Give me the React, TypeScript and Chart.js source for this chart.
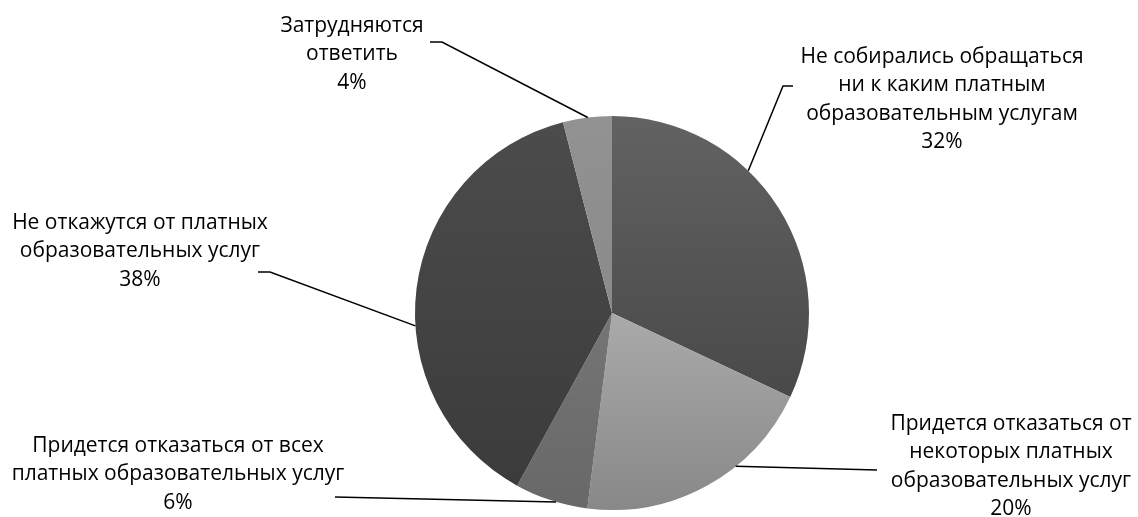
import React, { useEffect, useRef } from "react";
import { Chart, registerables } from "chart.js";

Chart.register(...registerables);

const categories: string[][] = [
  ["Не собирались обращаться", "ни к каким платным", "образовательным услугам"],
  ["Придется отказаться от", "некоторых платных", "образовательных услуг"],
  ["Придется отказаться от всех", "платных образовательных услуг"],
  ["Не откажутся от платных", "образовательных услуг"],
  ["Затрудняются", "ответить"],
];
const values: number[] = [32, 20, 6, 38, 4];

// slice shading (top of pie -> bottom of pie)
const lightColors = ["#626262", "#cccccc", "#828282", "#4c4c4c", "#929292"];
const darkColors = ["#3f3f3f", "#888888", "#686868", "#3a3a3a", "#828282"];

// label placement (text centre x, first line centre y), leader anchor fraction inside slice, leader path
const labelX = [942, 1011, 178, 140, 352];
const labelY = [57, 424, 446, 223, 26];
const anchorFrac = [0.38, 0.36, 0.43, 0.42, 0.51];
const leaderPath: number[][][] = [
  [[783, 86], [793, 86]],
  [[877, 470]],
  [[335, 497]],
  [[270, 272], [258, 272]],
  [[442, 42], [430, 42]],
];

const FONT = '21px "Open Sans", "Noto Sans", sans-serif';
const LINE_H = 28.5;

const labelPlugin = {
  id: "pieLabels",
  afterDatasetsDraw(chart: any) {
    const ctx = chart.ctx as CanvasRenderingContext2D;
    const meta = chart.getDatasetMeta(0);
    ctx.save();
    meta.data.forEach((arc: any, i: number) => {
      const a = arc.startAngle + anchorFrac[i] * (arc.endAngle - arc.startAngle);
      const r = arc.outerRadius;
      const sx = arc.x + Math.cos(a) * r;
      const sy = arc.y + Math.sin(a) * r;
      ctx.beginPath();
      ctx.moveTo(sx, sy);
      leaderPath[i].forEach((p) => ctx.lineTo(p[0], p[1]));
      ctx.strokeStyle = "#000";
      ctx.lineWidth = 1.5;
      ctx.stroke();

      const lines = [...categories[i], values[i] + "%"];
      ctx.font = FONT;
      ctx.fillStyle = "#000";
      ctx.textAlign = "center";
      ctx.textBaseline = "middle";
      lines.forEach((t, k) => ctx.fillText(t, labelX[i], labelY[i] + k * LINE_H));
    });
    ctx.restore();
  },
};

export default function App() {
  const ref = useRef<HTMLCanvasElement>(null);
  useEffect(() => {
    document.body.style.margin = "0";
    const canvas = ref.current!;
    const chart = new Chart(canvas, {
      type: "pie",
      data: {
        labels: categories.map((c) => c.join(" ")),
        datasets: [
          {
            data: values,
            borderWidth: 0,
            backgroundColor: (c: any) => {
              const ch = c.chart;
              const area = ch.chartArea;
              if (!area) return lightColors[c.dataIndex];
              const g = ch.ctx.createLinearGradient(0, area.top, 0, area.bottom);
              g.addColorStop(0, lightColors[c.dataIndex]);
              g.addColorStop(1, darkColors[c.dataIndex]);
              return g;
            },
          },
        ],
      },
      options: {
        responsive: false,
        animation: false,
        layout: { padding: { left: 415, right: 329, top: 116, bottom: 7 } },
        plugins: { legend: { display: false }, tooltip: { enabled: false } },
      },
      plugins: [labelPlugin],
    });
    return () => chart.destroy();
  }, []);
  return (
    <div style={{ position: "absolute", left: 0, top: 0, width: 1138, height: 517, background: "#fff" }}>
      <canvas ref={ref} width={1138} height={517} style={{ display: "block" }} />
    </div>
  );
}
